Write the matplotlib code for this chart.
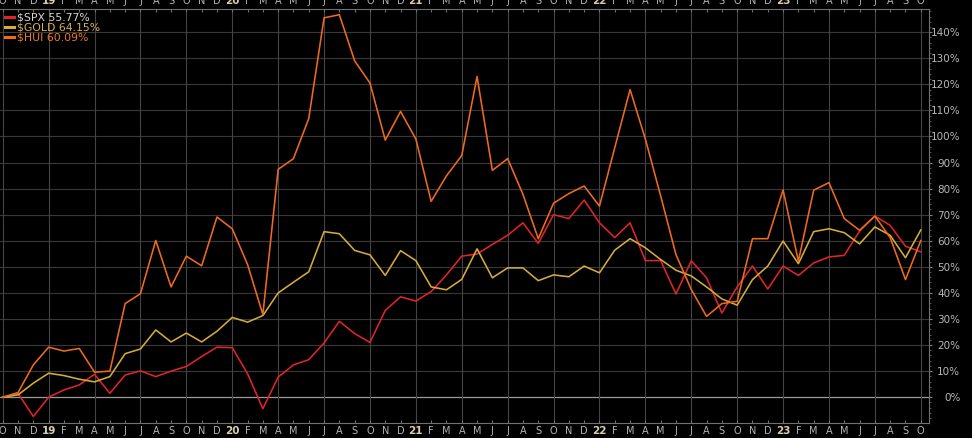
import matplotlib
matplotlib.use("Agg")
import matplotlib.pyplot as plt
from matplotlib.ticker import FixedLocator, MultipleLocator
import pandas as pd

# monthly closes, % change since Oct 2018
months = pd.date_range("2018-10-01", periods=61, freq="MS")

spx = [0, 1.5, -7.4, 0, 2.8, 4.7, 8.8, 1.5, 8.5, 10.1,
       7.9, 10.0, 11.8, 15.6, 19.2, 19.0, 9.0, -4.4, 7.7, 12.4,
       14.4, 20.8, 29.1, 24.4, 21.0, 33.3, 38.5, 36.9, 40.5, 46.9,
       54.1, 54.9, 58.6, 62.1, 66.9, 59.0, 70.0, 68.5, 75.6, 66.9,
       61.2, 66.9, 52.4, 52.4, 39.6, 52.3, 45.8, 32.3, 42.3, 50.3,
       41.5, 50.3, 46.7, 51.5, 53.8, 54.4, 63.7, 69.5, 65.9, 57.9, 55.77]

gold = [0, 0.9, 5.4, 9.2, 8.3, 6.9, 5.9, 7.9, 16.7, 18.5,
        25.8, 21.2, 24.6, 21.2, 25.3, 30.6, 28.8, 31.3, 40.0, 44.1,
        48.1, 63.5, 62.7, 56.3, 54.6, 46.7, 56.2, 52.4, 42.3, 41.2,
        45.2, 56.9, 45.8, 49.6, 49.6, 44.7, 46.9, 46.2, 50.3, 47.7,
        56.4, 60.8, 57.3, 52.8, 48.7, 46.5, 42.3, 37.7, 35.3, 45.1,
        50.3, 59.9, 51.2, 63.5, 64.6, 63.1, 58.8, 65.3, 62.1, 53.5, 64.15]

hui = [0, 1.8, 12.4, 19.2, 17.7, 18.7, 9.6, 10.0, 35.9, 39.7,
       60.1, 42.3, 54.1, 50.4, 69.1, 64.6, 50.9, 31.7, 87.4, 91.5,
       106.9, 145.5, 146.7, 129.0, 120.5, 98.6, 109.6, 99.0, 75.1, 84.9,
       92.7, 123.0, 87.0, 91.5, 77.8, 60.8, 74.4, 78.1, 81.0, 73.3,
       95.7, 118.0, 99.0, 77.2, 54.7, 41.3, 31.0, 35.9, 36.8, 60.8,
       60.8, 79.5, 52.2, 79.4, 82.3, 68.5, 64.0, 69.5, 61.2, 45.1, 60.09]

series = [("$SPX", spx, "#e0242a", "#d8d4cc"),
          ("$GOLD", gold, "#d4ac3c", "#d8b050"),
          ("$HUI", hui, "#f06a1e", "#f07828")]

pct_ticks = list(range(0, 150, 10))

x = list(range(len(months)))
month_labels = [m.strftime("%y") if m.month == 1 else m.strftime("%b")[0] for m in months]

fig = plt.figure(figsize=(9.72, 4.38), dpi=100, facecolor="black")
ax = fig.add_axes([0.0, 0.0342, 0.9558, 0.9453], facecolor="black")

# grid
for v in pct_ticks[1:]:
    ax.axhline(v, color="#383838", lw=0.8, zorder=1)
ax.axhline(0, color="#9a9a9a", lw=0.9, zorder=1)
for i, m in enumerate(months):
    if m.month in (1, 4, 7, 10):
        ax.axvline(i, color="#444444", lw=0.8, zorder=1)

handles = []
for name, vals, col, tcol in series:
    h, = ax.plot(x, vals, color=col, lw=1.15, zorder=3,
                 label=name.replace("$", r"\$") + " %.2f%%" % vals[-1])
    handles.append(h)

ax.set_xlim(-0.18, 60.54)
ax.set_ylim(-9.9, 148.9)

for s in ax.spines.values():
    s.set_color("#707070")
    s.set_linewidth(0.8)
ax.spines["left"].set_visible(False)

# month letters top and bottom, years in bold
ax.xaxis.set_major_locator(FixedLocator(x))
ax.set_xticklabels(month_labels)
ax.tick_params(axis="x", which="major", top=True, bottom=True, labeltop=True,
               labelbottom=True, direction="in", length=2, color="#707070",
               labelsize=7, labelcolor="#b4b4b4", pad=2)
for tick, m in zip(ax.xaxis.get_major_ticks(), months):
    if m.month == 1:
        for t in (tick.label1, tick.label2):
            t.set_fontweight("bold")
            t.set_color("#d8d0a8")
            t.set_fontsize(7.5)

# percent labels on the right
ax.yaxis.tick_right()
ax.yaxis.set_major_locator(FixedLocator(pct_ticks))
ax.yaxis.set_minor_locator(MultipleLocator(2))
ax.set_yticklabels(["%d%%" % v for v in pct_ticks])
ax.tick_params(axis="y", which="major", direction="out", length=2.5, color="#808080",
               labelsize=7.5, labelcolor="#b8b8b8", pad=20)
ax.tick_params(axis="y", which="minor", direction="out", length=1.2, color="#606060")
for t in ax.get_yticklabels():
    t.set_horizontalalignment("right")

leg = ax.legend(handles=handles, loc="upper left", bbox_to_anchor=(0.0, 1.004),
                frameon=False, fontsize=7.8, handlelength=0.75, handletextpad=0.35,
                labelspacing=0.0, borderaxespad=0.3, borderpad=0.2)
for txt, (name, vals, col, tcol) in zip(leg.get_texts(), series):
    txt.set_color(tcol)
for lh in leg.get_lines():
    lh.set_linewidth(2.2)

fig.savefig("out.png", dpi=100, facecolor="black")
